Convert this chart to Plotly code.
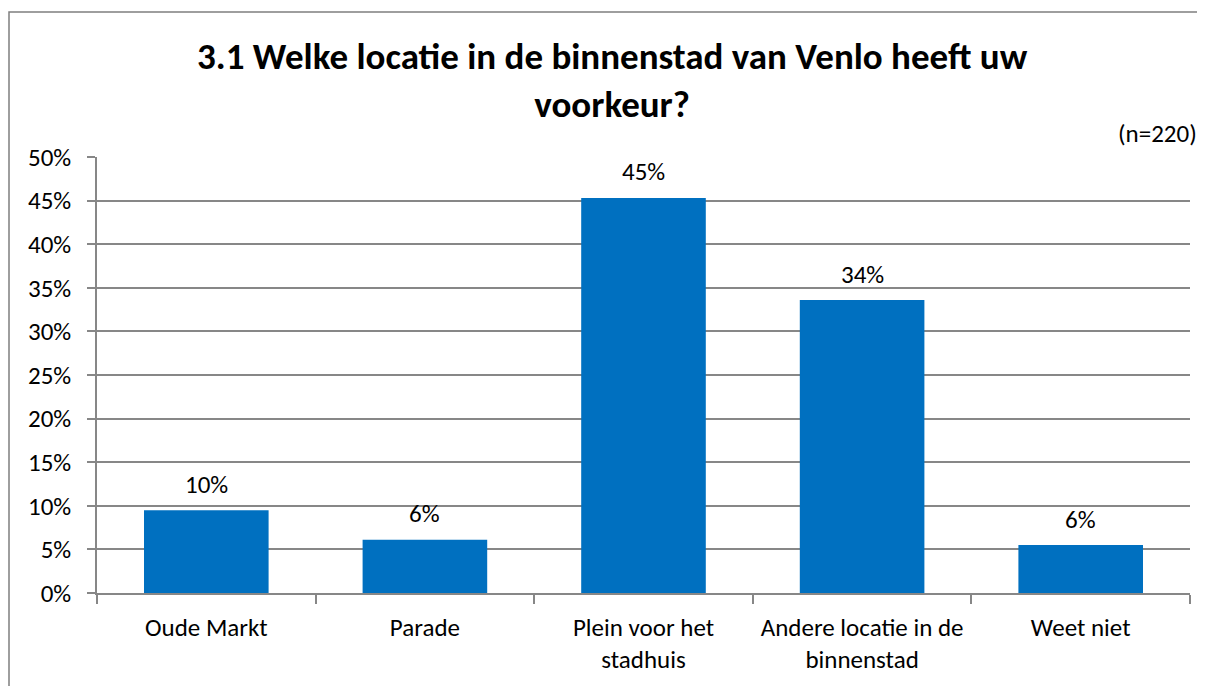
import plotly.graph_objects as go

categories = ["Oude Markt", "Parade", "Plein voor het<br>stadhuis", "Andere locatie in de<br>binnenstad", "Weet niet"]
values = [0.095, 0.061, 0.453, 0.336, 0.055]
labels = ["10%", "6%", "45%", "34%", "6%"]
title_text = "3.1 Welke locatie in de binnenstad van Venlo heeft uw<br>voorkeur?"
n_text = "(n=220)"

# page has an 8px body margin; figure placed at (8, 8)
OFF = 8
W, H = 1205 - OFF, 686 - OFF
PX0, PX1, PY0, PY1 = 97, 1190, 157, 593  # plot area in page pixels
L, R, T, B = PX0 - OFF, (W + OFF) - PX1, PY0 - OFF, (H + OFF) - PY1
pw, ph = PX1 - PX0, PY1 - PY0

FONT = "Carlito, Calibri, Lato, sans-serif"
GRID = "#878787"
FS = 25

fig = go.Figure(go.Bar(
    x=categories, y=values,
    marker=dict(color="#0070C0", line=dict(width=0)),
))

def px_x(p):
    return (p - PX0) / pw

def px_y(p):
    return (PY1 - p) / ph

annotations = [
    dict(x=c, y=v, text=t, xref="x", yref="y", showarrow=False,
         yanchor="middle", yshift=26, font=dict(size=FS, family=FONT, color="black"))
    for c, v, t in zip(categories, values, labels)
]
annotations += [
    dict(text="<b>" + title_text + "</b>", xref="paper", yref="paper",
         x=px_x(612), y=px_y(81), xanchor="center", yanchor="middle",
         showarrow=False, font=dict(size=37, family=FONT, color="black")),
    dict(text=n_text, xref="paper", yref="paper",
         x=px_x(1199), y=px_y(133), xanchor="right", yanchor="middle",
         showarrow=False, font=dict(size=FS, family=FONT, color="black")),
]

fig.update_layout(
    width=W, height=H,
    margin=dict(l=L, r=R, t=T, b=B, autoexpand=False),
    paper_bgcolor="white", plot_bgcolor="white",
    bargap=0.43,
    font=dict(family=FONT, size=FS, color="black"),
    showlegend=False,
    xaxis=dict(
        showline=True, linecolor=GRID, linewidth=1.5,
        ticks="outside", tickson="boundaries", ticklen=9, tickcolor=GRID, tickwidth=1.5,
        tickfont=dict(size=FS, family=FONT, color="black"),
        tickangle=0, automargin=False, ticklabelstandoff=11,
        showgrid=False,
    ),
    yaxis=dict(
        range=[0, 0.5], dtick=0.05, tickformat=".0%",
        showline=True, linecolor=GRID, linewidth=1.5,
        ticks="outside", ticklen=8, tickcolor=GRID, tickwidth=1.5,
        showgrid=True, gridcolor=GRID, gridwidth=1.5,
        tickfont=dict(size=FS, family=FONT, color="black"),
        automargin=False, ticklabelstandoff=11,
        zeroline=False,
    ),
    annotations=annotations,
    shapes=[
        dict(type="rect", xref="paper", yref="paper",
             x0=px_x(9), x1=px_x(1230), y0=px_y(720), y1=px_y(12),
             line=dict(color="#7f7f7f", width=1.5), fillcolor="rgba(0,0,0,0)", layer="below"),
    ],
)

fig.write_html("out.html")
